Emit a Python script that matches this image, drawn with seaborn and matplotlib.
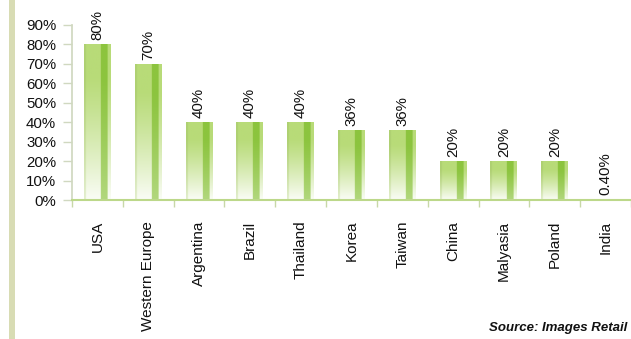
import numpy as np
import matplotlib
matplotlib.use("Agg")
import matplotlib.pyplot as plt
import matplotlib.colors as mcolors
from matplotlib.patches import Rectangle
import seaborn as sns

countries = ["USA", "Western Europe", "Argentina", "Brazil", "Thailand", "Korea",
             "Taiwan", "China", "Malyasia", "Poland", "India"]
values = [0.80, 0.70, 0.40, 0.40, 0.40, 0.36, 0.36, 0.20, 0.20, 0.20, 0.004]
value_labels = ["80%", "70%", "40%", "40%", "40%", "36%", "36%", "20%", "20%", "20%", "0.40%"]
ytick_vals = [0, 0.1, 0.2, 0.3, 0.4, 0.5, 0.6, 0.7, 0.8, 0.9]
ytick_labels = ["0%", "10%", "20%", "30%", "40%", "50%", "60%", "70%", "80%", "90%"]

sns.set_theme(style="white")
plt.rcParams["font.family"] = ["Liberation Sans", "DejaVu Sans"]

fig = plt.figure(figsize=(6.31, 3.39), dpi=100)
fig.patch.set_facecolor("white")
ax = fig.add_axes([72 / 631, 139 / 339, (631 - 72) / 631, 175 / 339])

sns.barplot(x=countries, y=values, color="#b3d66f", width=0.53, ax=ax,
            edgecolor="none", linewidth=0)

# gradient fill for bars
light = np.array(mcolors.to_rgb("#b8db78"))
dark = np.array(mcolors.to_rgb("#8cc43e"))
white = np.array([1.0, 1.0, 1.0])
nx, ny = 40, 100
xs = np.linspace(0, 1, nx)
ys = np.linspace(0, 1, ny)  # 0 = top, 1 = bottom
img = np.zeros((ny, nx, 3))
for i, t in enumerate(ys):
    fade = np.clip((t - 0.2) / 0.8, 0, 1) ** 1.2 * 0.93
    for j, s in enumerate(xs):
        base = light.copy()
        if 0.62 <= s <= 0.88:
            base = dark
            f = fade * 0.35
        elif s < 0.06:
            base = light * 0.95
            f = fade * 0.7
        else:
            f = fade
        img[i, j] = base * (1 - f) + white * f

for p in ax.patches:
    x0, w, h = p.get_x(), p.get_width(), p.get_height()
    p.set_facecolor("none")
    if h <= 0.01:
        continue
    im = ax.imshow(img, extent=(x0, x0 + w, 0, h), aspect="auto", zorder=2,
                   interpolation="bilinear")
    im.set_clip_path(p)

for i, (v, lab) in enumerate(zip(values, value_labels)):
    ax.annotate(lab, (i, v), xytext=(0, 3), textcoords="offset points",
                rotation=90, ha="center", va="bottom", fontsize=10.8, color="#111111")

ax.set_xlim(-0.5, 10.5)
ax.set_ylim(0, 0.9)
ax.set_yticks(ytick_vals)
ax.set_yticklabels(ytick_labels, fontsize=10.8, color="#111111")
ax.set_xticks(range(len(countries)))
ax.set_xticklabels(countries, rotation=90, fontsize=11, color="#111111", va="top")
ax.set_xticks(np.arange(-0.5, 11, 1), minor=True)
ax.tick_params(axis="x", which="major", length=0, pad=15)
ax.tick_params(axis="x", which="minor", length=5, width=1, color="#c8d8a8", direction="out", bottom=True)
ax.tick_params(axis="y", length=6.5, width=1, color="#d0d8c0", pad=5, left=True)
ax.set_xlabel("")
ax.set_ylabel("")
ax.grid(False)
for s in ["top", "right"]:
    ax.spines[s].set_visible(False)
ax.spines["left"].set_color("#d0d8c0")
ax.spines["bottom"].set_color("#bcd88a")
ax.spines["bottom"].set_linewidth(1.5)

# decorative left bar
fig.patches.append(Rectangle((9 / 631, 0), 6 / 631, 1, transform=fig.transFigure,
                             facecolor="#d8dcb4", edgecolor="none", zorder=0))

fig.text(627 / 631, 1 - 328 / 339, "Source: Images Retail", ha="right", va="center",
         fontsize=9.5, fontweight="bold", fontstyle="italic", color="#111111")

fig.savefig("out.png", dpi=100, facecolor="white")
